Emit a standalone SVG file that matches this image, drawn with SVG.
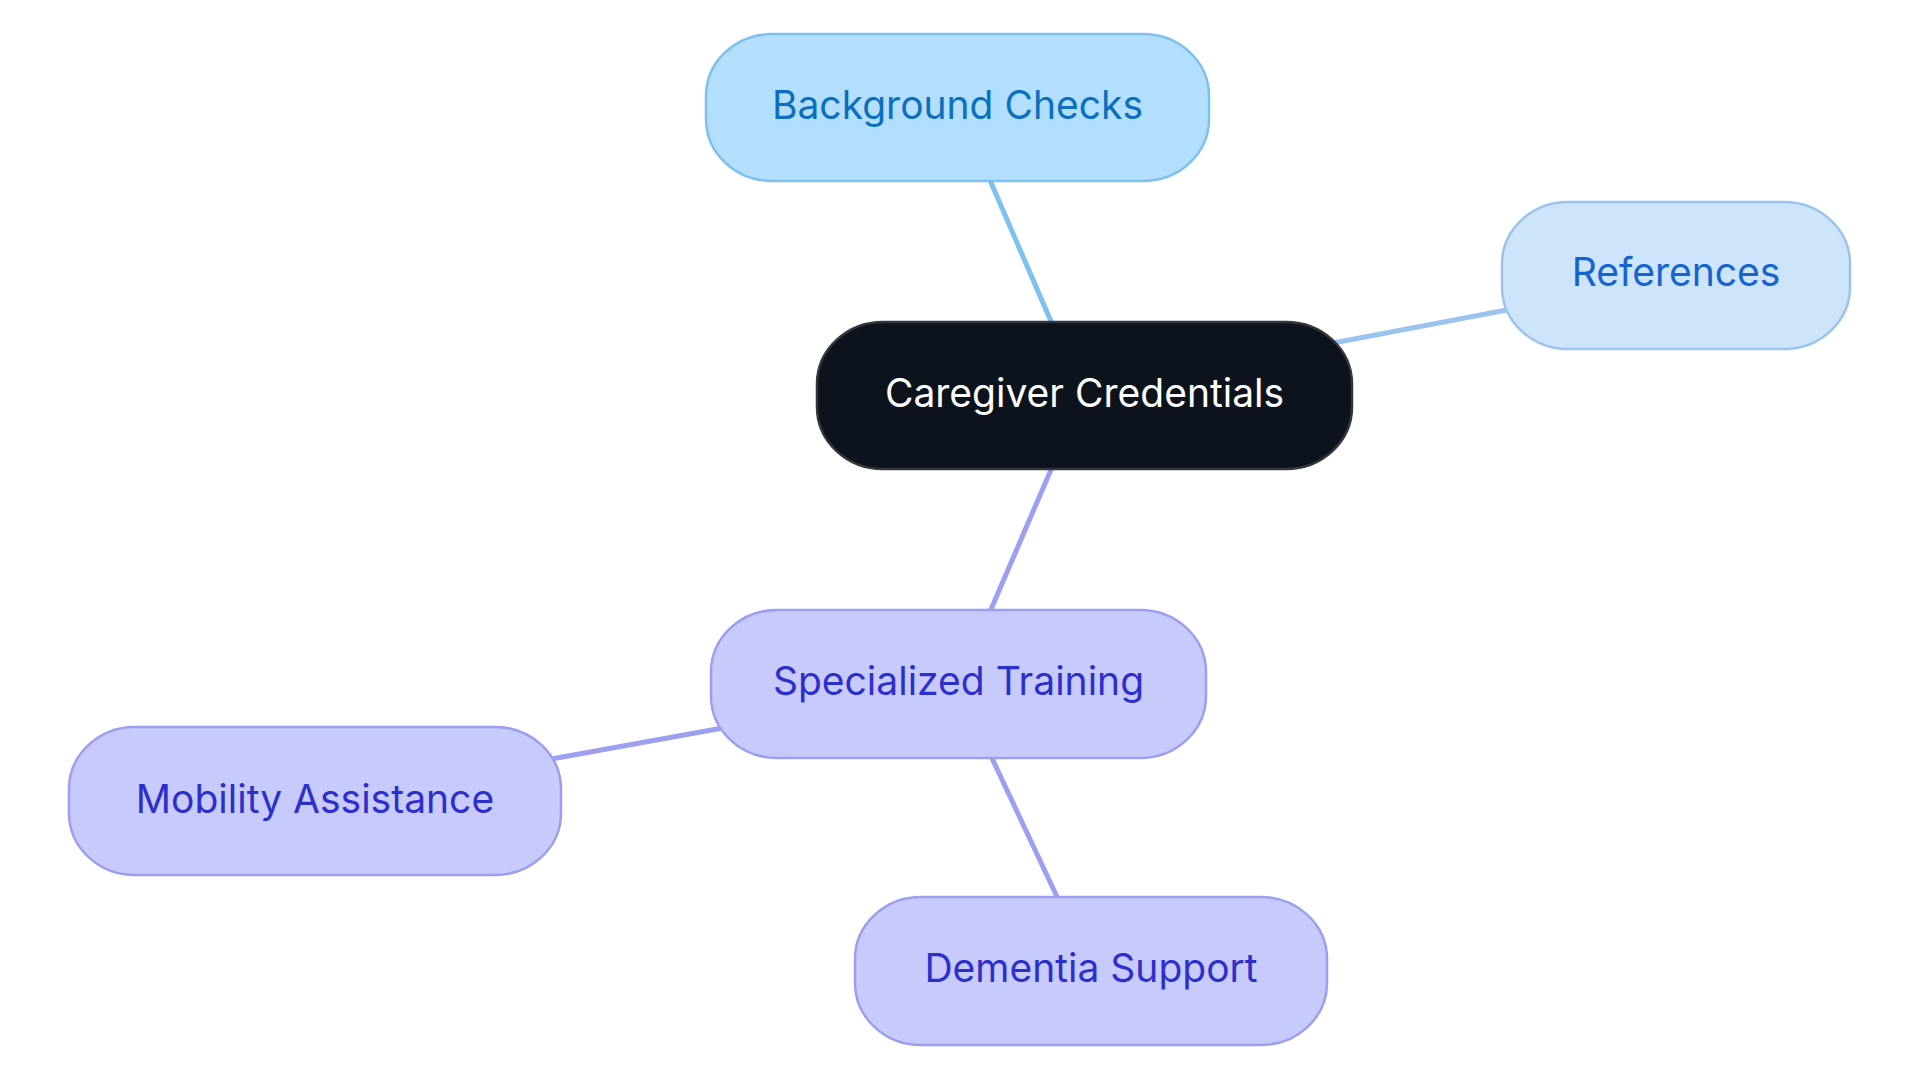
<svg xmlns="http://www.w3.org/2000/svg" width="1920" height="1083" viewBox="0 0 1920 1083">
<style>
.lbl{font-family:Inter,"Noto Sans","Liberation Sans",sans-serif;font-size:39px;text-anchor:middle}
.edge{fill:none;stroke-width:5;stroke-linecap:butt}
.n{stroke-width:2.5}
.blue{fill:#b3dffd;stroke:#7dc1f1}
.blue-t{fill:#0b6fbf}
.ref{fill:#cde4fa;stroke:#9ac4ef}
.ref-t{fill:#1565d0}
.root{fill:#0d131c;stroke:#33373d}
.root-t{fill:#ffffff}
.pur{fill:#c9cafc;stroke:#9c9ff0}
.pur-t{fill:#2d2fcc}
</style>
<rect width="1920" height="1083" fill="#ffffff"/>
<g id="connectors">
<line class="edge" stroke="#7cc1f0" x1="1053" y1="326" x2="989" y2="178"/>
<line class="edge" stroke="#9ac4ef" x1="1328" y1="344" x2="1512" y2="309"/>
<line class="edge" stroke="#9d9ff0" x1="1053" y1="465" x2="989" y2="614"/>
<line class="edge" stroke="#9d9ff0" x1="728" y1="727" x2="546" y2="760"/>
<line class="edge" stroke="#9d9ff0" x1="990" y1="754" x2="1059" y2="901"/>
</g>
<g id="node-root">
<rect class="n root" x="817" y="322" width="535" height="147" rx="66" ry="62"/>
<text class="lbl root-t" x="1084.5" y="407">Caregiver Credentials</text>
</g>
<g id="node-background">
<rect class="n blue" x="706" y="34" width="503" height="147" rx="66" ry="62"/>
<text class="lbl blue-t" x="957.5" y="119">Background Checks</text>
</g>
<g id="node-references">
<rect class="n ref" x="1502" y="202" width="348" height="147" rx="66" ry="62"/>
<text class="lbl ref-t" x="1676" y="286">References</text>
</g>
<g id="node-specialized">
<rect class="n pur" x="711" y="610" width="495" height="148" rx="66" ry="62"/>
<text class="lbl pur-t" x="958.5" y="695">Specialized Training</text>
</g>
<g id="node-mobility">
<rect class="n pur" x="69" y="727" width="492" height="148" rx="66" ry="62"/>
<text class="lbl pur-t" x="315" y="813">Mobility Assistance</text>
</g>
<g id="node-dementia">
<rect class="n pur" x="855" y="897" width="472" height="148" rx="66" ry="62"/>
<text class="lbl pur-t" x="1091" y="982">Dementia Support</text>
</g>
</svg>
